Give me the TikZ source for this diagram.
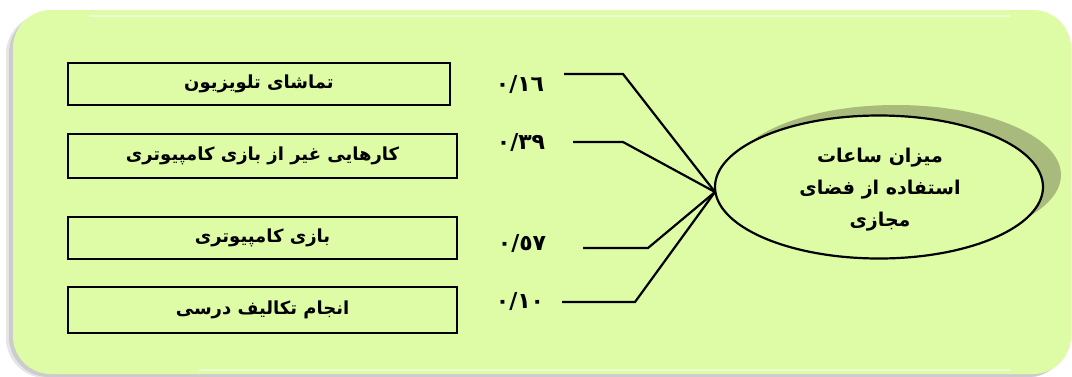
\documentclass[tikz,border=0pt]{standalone}
\usepackage{fontspec}
\newfontfamily\arabicfont[Script=Arabic]{DejaVu Sans}
\TeXXeTstate=1
\usetikzlibrary{shapes.geometric}
\definecolor{framegreen}{HTML}{DEFCA6}
\definecolor{shadowgreen}{HTML}{A8BB7C}
\tikzset{
  itembox/.style={draw=black, line width=2.6pt, rectangle, inner sep=0pt, font=\arabicfont\bfseries\fontsize{18}{20}\selectfont},
  coef/.style={font=\arabicfont\bfseries\fontsize{22}{24}\selectfont, inner sep=0pt},
  link/.style={line width=2.2pt, line join=miter},
}
\begin{document}
\begin{tikzpicture}[x=1pt,y=-1pt]
\useasboundingbox (0,0) rectangle (1072,376);
\fill[white] (0,0) rectangle (1072,376);
% frame shadow
\fill[black!10, rounded corners=40pt] (6,14) rectangle (1066,378);
\fill[black!20, rounded corners=40pt] (9,13) rectangle (1068,377);
% frame
\fill[framegreen, rounded corners=38pt] (13,10) rectangle (1071,374);
\draw[white, opacity=0.5, line width=2.5pt, line cap=round] (90,16) -- (1010,16);
\draw[white, opacity=0.5, line width=2.5pt, line cap=round] (200,370) -- (1010,370);
% boxes
\node[itembox, minimum width=382pt, minimum height=42pt] (b1) at (259,84) {\beginR تماشای تلویزیون\endR};
\node[itembox, minimum width=389pt, minimum height=44pt] (b2) at (262.5,156) {\beginR کارهایی غیر از بازی کامپیوتری\endR};
\node[itembox, minimum width=389pt, minimum height=42pt] (b3) at (262.5,238) {\beginR بازی کامپیوتری\endR};
\node[itembox, minimum width=389pt, minimum height=46pt] (b4) at (262.5,310) {\beginR انجام تکالیف درسی\endR};
% coefficients
\node[coef] (l1) at (520,84) {٠/١٦};
\node[coef] (l2) at (521,142) {٠/٣٩};
\node[coef] (l3) at (522,243) {٠/٥٧};
\node[coef] (l4) at (520,301) {٠/١٠};
% ellipse
\fill[shadowgreen] (896,175) ellipse [x radius=165pt, y radius=70pt];
\node[ellipse, draw=black, line width=2.2pt, fill=framegreen, minimum width=328pt, minimum height=143pt, inner sep=0pt] (e) at (879,187) {};
\node[font=\arabicfont\bfseries\fontsize{19}{32}\selectfont, align=center] (et) at (880,190) {\beginR میزان ساعات\endR\\\beginR استفاده از فضای\endR\\\beginR مجازی\endR};
% connectors
\coordinate (c) at (715,192);
\coordinate (s1) at (564,74); \coordinate (k1) at (623,74);
\coordinate (s2) at (573,142); \coordinate (k2) at (623,142);
\coordinate (s3) at (583,248); \coordinate (k3) at (648,248);
\coordinate (s4) at (562,302); \coordinate (k4) at (635,302);
\draw[link] (s1) -- (k1) -- (c);
\draw[link] (s2) -- (k2) -- (c);
\draw[link] (s3) -- (k3) -- (c);
\draw[link] (s4) -- (k4) -- (c);
\end{tikzpicture}
\end{document}
